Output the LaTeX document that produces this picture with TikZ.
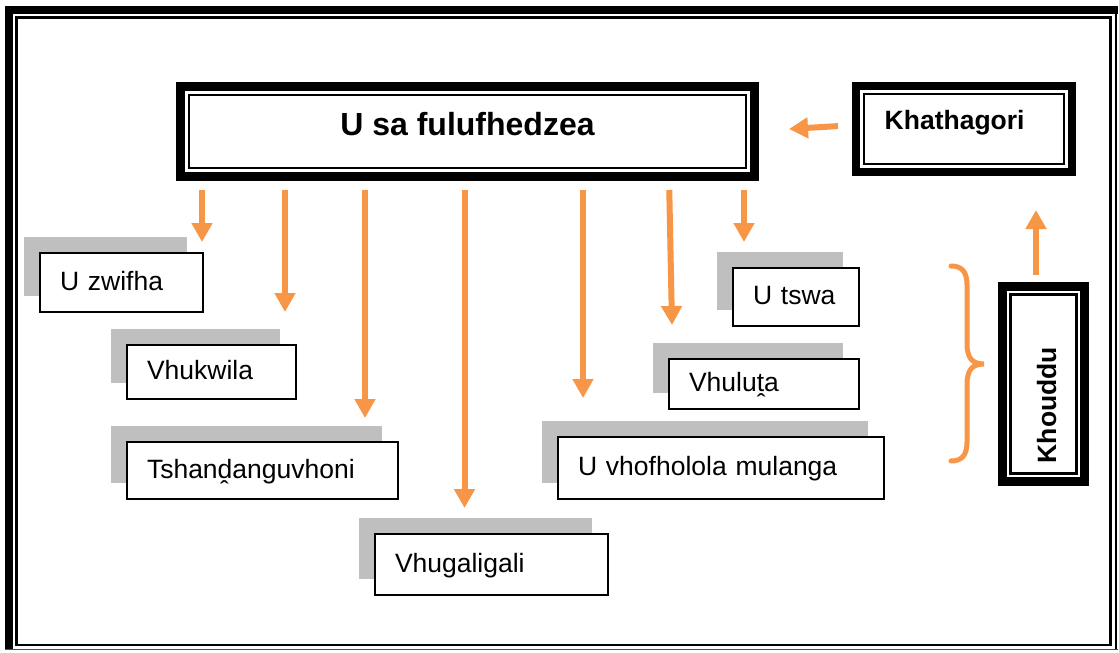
\documentclass[tikz,border=0pt]{standalone}
\usepackage{fontspec}
\setmainfont{Liberation Sans}
\usetikzlibrary{arrows.meta,shadows}
\definecolor{accentorange}{HTML}{F79646}
\definecolor{shadowgray}{HTML}{BFBFBF}
\begin{document}
\begin{tikzpicture}[x=1pt,y=-1pt,
  frame/.style={draw=black, fill=white, inner sep=0pt, outer sep=0pt},
  inner line/.style={draw=black, line width=2.5pt},
  titletext/.style={inner sep=0pt, font=\fontsize{32pt}{38pt}\selectfont\bfseries},
  headtext/.style={inner sep=0pt, font=\fontsize{26.5pt}{31pt}\selectfont\bfseries},
  tbox/.style={draw=black, line width=2pt, fill=white, inner xsep=20pt, inner ysep=0pt,
    outer sep=0pt, align=left, text height=19pt, text depth=4pt,
    font=\fontsize{26.5pt}{31pt}\selectfont,
    general shadow={shadow xshift=-16pt, shadow yshift=16pt, fill=shadowgray}},
  oarrow/.style={draw=accentorange, line width=6pt,
    -{Triangle[length=19pt,width=20pt]}},
  brace/.style={draw=accentorange, line width=5pt, line cap=round}
]
\useasboundingbox (0,0) rectangle (1119,653);
\fill[white] (0,0) rectangle (1119,653);

% page border: thick band top/left, thin lines inside and on the right/bottom
\fill[black] (5,6) rectangle (13,650);
\fill[black] (5,6) rectangle (1118,14);
\draw[line width=2.5pt] (1116,6) -- (1116,650);
\draw[line width=1.5pt, black!70] (5,649.5) -- (1118,649.5);
\draw[line width=2.5pt] (16.5,17.5) rectangle (1110.5,645);

% main heading box
\node[frame, line width=9pt, minimum width=574pt, minimum height=90pt] (top) at (467.5,131.5) {};
\draw[inner line] ([shift={(8.3,8.3)}]top.north west) rectangle ([shift={(-8.3,-8.3)}]top.south east);
\node[titletext, anchor=base] (topL) at (467.5,135) {U sa fulufhedzea};

% category box
\node[frame, line width=8pt, minimum width=216pt, minimum height=86pt] (kat) at (964,129) {};
\draw[inner line] ([shift={(8.2,8.2)}]kat.north west) rectangle ([shift={(-8.2,-8.2)}]kat.south east);
\node[headtext, anchor=base west] (katL) at (884.5,129) {Khathagori};

% vertical box
\node[frame, line width=9pt, minimum width=82pt, minimum height=195pt] (kd) at (1043.5,384) {};
\draw[inner line] ([shift={(7.8,7.8)}]kd.north west) rectangle ([shift={(-7.8,-7.8)}]kd.south east);
\node[headtext, anchor=base west, rotate=90] (kdL) at (1056,463.5) {Khouddu};

% item boxes with shadows
\node[tbox, text width=123pt, minimum height=59pt] (b1) at (121.5,282.5) {U zwifha};
\node[tbox, text width=129pt, minimum height=54pt] (b2) at (211.5,372) {Vhukwila};
\node[tbox, text width=231pt, minimum height=57pt] (b3) at (262.5,470.5) {Tshanḓanguvhoni};
\node[tbox, text width=193pt, minimum height=61pt] (b4) at (491.5,564.5) {Vhugaligali};
\node[tbox, text width=86pt, minimum height=58pt] (b5) at (796,297) {U tswa};
\node[tbox, text width=150pt, minimum height=50pt] (b6) at (764,384) {Vhuluṱa};
\node[tbox, text width=286pt, minimum height=62pt] (b7) at (721,468) {U vhofholola mulanga};

% arrow tips above the item boxes
\coordinate (t1) at (202,242);
\coordinate (t2) at (285,312);
\coordinate (t3) at (365,418);
\coordinate (t4) at (464.5,508);
\coordinate (t5) at (583,398);
\coordinate (t6) at (672,325);
\coordinate (t7) at (744,242);

\draw[oarrow, shorten <=13.5pt] (t1 |- top.south) -- (t1);
\draw[oarrow, shorten <=13.5pt] (t2 |- top.south) -- (t2);
\draw[oarrow, shorten <=13.5pt] (t3 |- top.south) -- (t3);
\draw[oarrow, shorten <=13.5pt] (t4 |- top.south) -- (t4);
\draw[oarrow, shorten <=13.5pt] (t5 |- top.south) -- (t5);
\draw[oarrow, shorten <=13.5pt] ([xshift=-3pt]t6 |- top.south) -- (t6);
\draw[oarrow, shorten <=13.5pt] (t7 |- top.south) -- (t7);

% arrows on the right
\coordinate (tk) at (789,129);
\draw[oarrow, shorten <=18pt] ([yshift=4pt]kat.west) -- (tk);
\coordinate (tu) at (1036,210);
\draw[oarrow, shorten <=11.5pt] (tu |- kd.north) -- (tu);

% curly brace beside the vertical box
\draw[brace] (951,266) .. controls (962,266) and (967,272) .. (967,285)
  -- (967,343) .. controls (967,358) and (972,364) .. (984,364)
  .. controls (972,364) and (967,370) .. (967,385)
  -- (967,442) .. controls (967,455) and (962,461) .. (951,461);
\end{tikzpicture}
\end{document}
